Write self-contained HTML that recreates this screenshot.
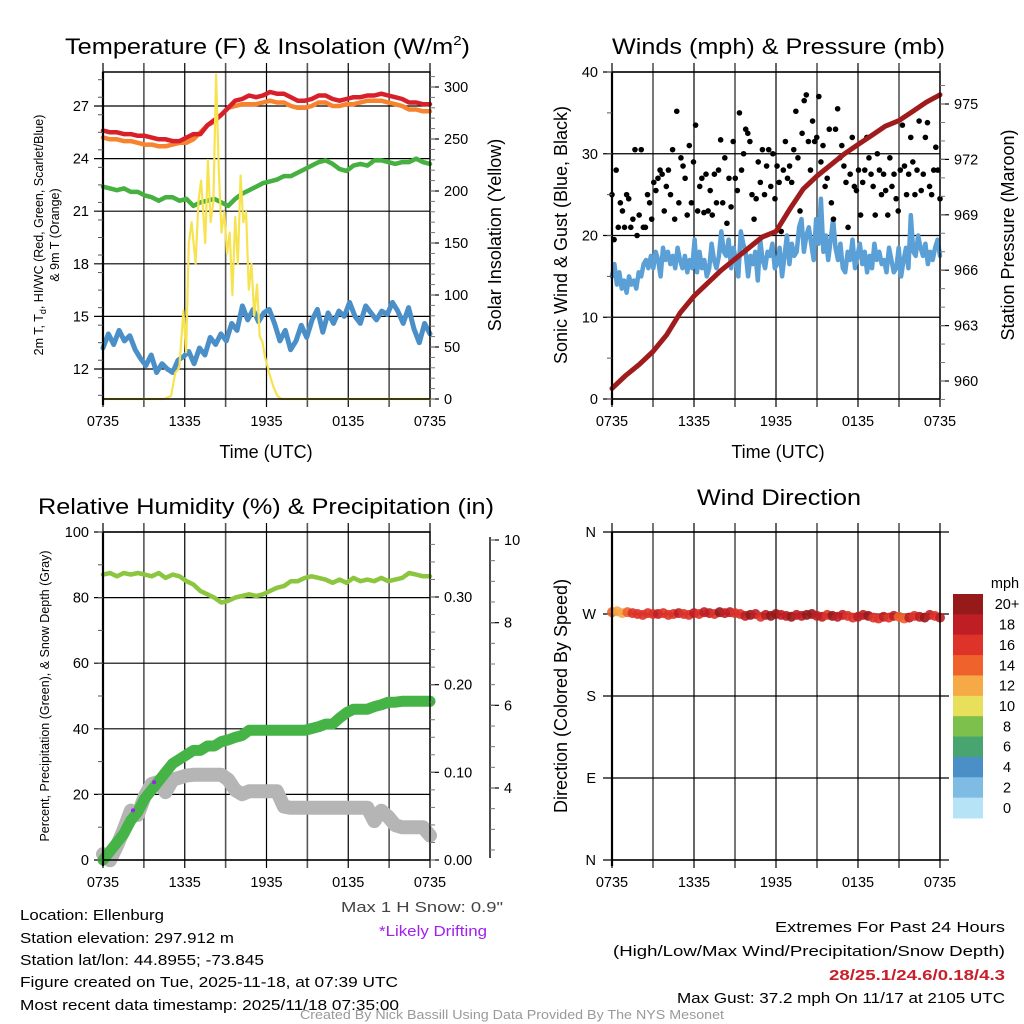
<!DOCTYPE html>
<html><head><meta charset="utf-8"><style>
html,body{margin:0;padding:0;background:#fff}
svg{display:block;font-family:"Liberation Sans",Arial,sans-serif}
</style></head><body>
<svg id="fig" width="1024" height="1024" viewBox="0 0 1024 1024" xmlns="http://www.w3.org/2000/svg">
<rect width="1024" height="1024" fill="#fff"/>
<g id="grids"></g>
<g id="marks"></g>
<g id="axes"></g>
<g font-size="22" fill="#000">
<text x="65" y="54" textLength="405" lengthAdjust="spacingAndGlyphs">Temperature (F) &amp; Insolation (W/m<tspan font-size="13" dy="-9">2</tspan><tspan dy="9">)</tspan></text>
<text x="612" y="54" textLength="333" lengthAdjust="spacingAndGlyphs">Winds (mph) &amp; Pressure (mb)</text>
<text x="38" y="514" textLength="456" lengthAdjust="spacingAndGlyphs">Relative Humidity (%) &amp; Precipitation (in)</text>
<text x="697" y="505" textLength="164" lengthAdjust="spacingAndGlyphs">Wind Direction</text>
</g>
<g font-size="18">
<text x="266" y="458" text-anchor="middle">Time (UTC)</text>
<text x="778" y="458" text-anchor="middle">Time (UTC)</text>
<text transform="translate(501,235) rotate(-90)" text-anchor="middle">Solar Insolation (Yellow)</text>
<text transform="translate(567,235) rotate(-90)" text-anchor="middle">Sonic Wind &amp; Gust (Blue, Black)</text>
<text transform="translate(1014,235) rotate(-90)" text-anchor="middle">Station Pressure (Maroon)</text>
<text transform="translate(567,696) rotate(-90)" text-anchor="middle">Direction (Colored By Speed)</text>
</g>
<g font-size="12.5">
<text transform="translate(43,235) rotate(-90)" text-anchor="middle">2m T, T<tspan font-size="9" dy="3">d</tspan><tspan dy="-3">, HI/WC (Red, Green, Scarlet/Blue)</tspan></text>
<text transform="translate(59,235) rotate(-90)" text-anchor="middle">&amp; 9m T (Orange)</text>
<text transform="translate(49,696) rotate(-90)" text-anchor="middle">Percent, Precipitation (Green), &amp; Snow Depth (Gray)</text>
</g>
<g font-size="15">
<text x="20" y="920" textLength="144" lengthAdjust="spacingAndGlyphs">Location: Ellenburg</text>
<text x="20" y="943" textLength="214" lengthAdjust="spacingAndGlyphs">Station elevation: 297.912 m</text>
<text x="20" y="965" textLength="244" lengthAdjust="spacingAndGlyphs">Station lat/lon: 44.8955; -73.845</text>
<text x="20" y="987" textLength="378" lengthAdjust="spacingAndGlyphs">Figure created on Tue, 2025-11-18, at 07:39 UTC</text>
<text x="20" y="1003" textLength="379" lengthAdjust="spacingAndGlyphs" dy="7">Most recent data timestamp: 2025/11/18 07:35:00</text>
<text x="341" y="912" fill="#444" textLength="162" lengthAdjust="spacingAndGlyphs">Max 1 H Snow: 0.9"</text>
<text x="379" y="936" fill="#a020f0" textLength="108" lengthAdjust="spacingAndGlyphs">*Likely Drifting</text>
<text x="1005" y="932" text-anchor="end" textLength="230" lengthAdjust="spacingAndGlyphs">Extremes For Past 24 Hours</text>
<text x="1005" y="956" text-anchor="end" textLength="392" lengthAdjust="spacingAndGlyphs">(High/Low/Max Wind/Precipitation/Snow Depth)</text>
<text x="1005" y="980" text-anchor="end" fill="#c8202a" font-weight="bold" textLength="176" lengthAdjust="spacingAndGlyphs">28/25.1/24.6/0.18/4.3</text>
<text x="1005" y="1003" text-anchor="end" textLength="328" lengthAdjust="spacingAndGlyphs">Max Gust: 37.2 mph On 11/17 at 2105 UTC</text>
</g>
<text x="512" y="1019" font-size="12.5" fill="#999" text-anchor="middle" textLength="424" lengthAdjust="spacingAndGlyphs">Created By Nick Bassill Using Data Provided By The NYS Mesonet</text>
</svg>
<script>
// ---------------- data ----------------
const xTickLabels = ["0735","1335","1935","0135","0735"];
const tempTicks = [12,15,18,21,24,27];
const solarTicks = [0,50,100,150,200,250,300];
const windTicks = [0,10,20,30,40];
const pressTicks = [960,963,966,969,972,975];
const rhTicks = [0,20,40,60,80,100];
const precipTicks = [0.00,0.10,0.20,0.30];
const snowTicks = [4,6,8,10];
const dirTicks = ["N","E","S","W","N"];
const speedBins = ["0","2","4","6","8","10","12","14","16","18","20+"];

const tempHigh = [25.6,25.5,25.5,25.4,25.4,25.3,25.3,25.2,25.1,25.1,25.0,25.0,25.2,25.4,25.4,25.9,26.2,26.5,26.9,27.3,27.4,27.6,27.5,27.6,27.8,27.7,27.7,27.5,27.3,27.3,27.4,27.6,27.6,27.4,27.3,27.4,27.5,27.5,27.6,27.6,27.7,27.6,27.5,27.4,27.2,27.2,27.1,27.1];
const temp9m = [25.2,25.1,25.1,25.0,25.0,24.9,24.8,24.8,24.7,24.7,24.8,24.9,24.9,25.1,25.5,25.9,26.1,26.5,26.9,27.0,27.1,27.1,27.1,27.2,27.3,27.2,27.2,27.0,26.9,26.9,27.0,27.2,27.2,27.0,27.0,27.1,27.1,27.2,27.3,27.3,27.3,27.2,27.1,27.0,26.8,26.8,26.7,26.7];
const dewPoint = [22.4,22.3,22.2,22.3,22.1,22.1,21.9,21.8,21.6,21.8,21.8,21.6,21.7,21.3,21.5,21.6,21.7,21.5,21.3,21.7,22.0,22.2,22.4,22.6,22.7,22.8,23.0,23.0,23.2,23.4,23.6,23.8,23.9,23.7,23.4,23.3,23.6,23.7,23.6,23.9,23.9,23.8,23.7,23.8,23.8,24.0,23.8,23.7];
const windChill = [13.2,14.0,13.4,14.2,13.6,13.9,13.1,12.6,12.2,12.8,11.8,12.3,12.0,11.8,12.5,12.7,13.0,12.3,13.2,12.8,13.8,13.4,14.0,13.6,14.6,14.2,15.6,14.8,15.4,14.7,15.2,15.4,14.6,13.6,14.2,13.1,13.6,14.5,13.8,14.8,15.4,14.1,15.2,14.6,15.3,15.0,15.8,15.0,14.6,15.6,15.2,14.8,15.3,15.1,15.8,15.3,14.6,15.5,14.3,13.5,14.6,14.0];
const solarHours = [0,4.5,5.0,5.3,5.6,5.9,6.1,6.3,6.5,6.8,7.0,7.2,7.5,7.7,7.9,8.1,8.3,8.5,8.7,8.9,9.1,9.3,9.5,9.7,9.9,10.1,10.3,10.5,10.7,10.9,11.1,11.3,11.5,11.7,11.9,12.2,12.5,12.8,13.1,24];
const solarVals = [0,0,3,25,30,85,45,150,170,130,190,210,150,230,170,190,312,220,160,180,140,160,100,175,130,215,170,180,105,130,80,110,60,55,40,25,12,3,0,0];

const windSpeed = [15,16.5,14,15.5,13.5,14.5,13,15,14,14.5,13.5,15.5,15,16.5,17,16,17.5,16,18,17,15,18.5,17,18,16.5,17.5,16,18.5,17,16,17.5,15.5,17,16,19.5,15.5,18,16,17,15,16,19,17,16,17.5,20.5,18,17.5,19.5,16,18.5,17,15,20.5,19,18,15,17.5,16.5,18,14.5,19.5,17,16,18,17.5,19,16,16.5,18.5,15,17.5,20,16.5,19,17.5,18,21,22,18,20,21,19,17,22,19,24.5,18,20,17,19.5,22,18.5,17,19,16,15.5,18,17,19.5,16,17.5,19,16.5,18,15.5,17.5,16,19,17,18,16.5,17,15.5,18.5,17,15.5,16,18.5,15,17,18.5,16,22.5,18,17.5,20,18.5,17.5,19,16.5,18,17,18.5,19.5,17.5];
const windGust = [25,19.5,28,21,24,23,21,25,24.5,21,22,30.5,20,22.5,30.5,21,21,25,24,22,26.5,25.5,27,28,27.5,23,26,28,25,30.5,22,35.2,24,29.5,28.5,27,22.5,31,24,29,33.5,23,26,27,22.8,27.5,23,25.5,22.5,27.5,24,28,31.7,24,29.5,21.5,27,23.5,31.5,27,25.5,35,28,30,33,32.5,31.5,25,22,24.5,29,26.5,30.5,25,28.5,30.5,26,30,24.5,28.5,26.5,20.5,28,31.5,27,28.5,26.5,30.5,35.2,29.5,23,32.5,36.5,37.2,31.5,28,34,31.5,32,37,29,31,26,27,33,24,22,33,35.5,29.5,31,28.5,26.5,21,27.5,32,26,25.5,28,22.5,26.5,28,32,29.5,27.5,26,22.5,30,28,25,27.5,25.5,22.5,29.5,26,27.5,24.5,23,28,33.5,28.5,25,27.5,32,29,25,28,34,25.5,27.5,32,33.8,26,25,28,30.8,28,24.5];
const pressHours = [0,1,2,3,4,5,6,7,8,9,10,11,12,13,14,15,16,17,18,19,20,21,22,23,24];
const pressure = [959.6,960.3,960.9,961.6,962.5,963.7,964.6,965.3,966.0,966.6,967.2,967.8,968.1,969.3,970.4,971.1,971.7,972.3,972.8,973.3,973.8,974.1,974.6,975.1,975.5];

const windDir = [272,273,271,272,271,270,269,271,270,270,271,269,270,271,270,269,271,270,272,271,270,272,271,272,271,270,268,269,270,267,269,268,270,269,268,267,269,268,269,270,268,267,269,268,267,269,268,266,267,269,268,266,265,267,266,268,267,265,266,268,267,266,269,268,266];
const dirSpeed = [14,13,12,15,16,17,16,17,16,18,17,16,17,18,16,17,18,17,19,18,17,20,19,18,17,16,19,20,18,17,19,20,21,18,19,20,19,18,20,21,19,18,17,20,19,18,16,17,18,19,20,17,16,18,17,19,14,15,18,17,19,20,18,17,18];

const rhVals = [87,87.5,86.5,87.5,87,87.5,87,86.5,87.5,86,87,86.5,85,84,82,81,80,78.5,79,80,80.5,81,80.5,81,82,83,83.5,85,85,86,86.5,86,85.5,84.5,85.5,84.5,86,85,85.5,85,86,85,85.5,86,87.5,87,86.5,86.5];
const precipVals = [0,0.01,0.02,0.03,0.045,0.055,0.07,0.08,0.09,0.10,0.11,0.115,0.12,0.125,0.125,0.13,0.13,0.135,0.137,0.14,0.142,0.148,0.148,0.148,0.148,0.148,0.148,0.148,0.148,0.148,0.15,0.152,0.155,0.155,0.162,0.168,0.172,0.172,0.172,0.175,0.177,0.18,0.18,0.181,0.181,0.181,0.181,0.181];
const snowDepth = [2.4,2.25,2.6,3.0,3.45,3.35,3.8,4.1,4.15,3.9,4.2,4.25,4.3,4.32,4.32,4.32,4.32,4.32,4.2,3.95,3.85,3.92,3.92,3.92,3.92,3.92,3.55,3.52,3.52,3.52,3.52,3.52,3.52,3.52,3.52,3.52,3.52,3.52,3.52,3.2,3.45,3.3,3.1,3.05,3.05,3.05,3.05,2.85];
const driftHours = [2.2,3.75];
const driftDepth = [3.46,4.14];

// ---------------- drawing ----------------
const NS="http://www.w3.org/2000/svg";
const G=document.getElementById('grids'),M=document.getElementById('marks'),A=document.getElementById('axes');
function mk(tag,attrs,parent){const e=document.createElementNS(NS,tag);for(const k in attrs)e.setAttribute(k,attrs[k]);parent.appendChild(e);return e;}
const panels={tl:{x0:103,x1:430,y0:72,y1:399},tr:{x0:612,x1:940,y0:72,y1:399},bl:{x0:103,x1:430,y0:532,y1:860},br:{x0:612,x1:940,y0:532,y1:860}};
function xs(p,h){return p.x0+(h/24)*(p.x1-p.x0);}
function lin(d0,d1,r0,r1){return v=>r0+(v-d0)/(d1-d0)*(r1-r0);}
const yTemp=lin(12,27,369,106), ySolar=lin(0,300,399,87), yWind=lin(0,40,399,72), yPress=lin(960,975,381,104);
const yRH=lin(0,100,860,532), yPrecip=lin(0,0.30,860,597), ySnow=lin(4,10,788,540), yDir=lin(0,360,860,532);
function idxH(arr,i){return i/(arr.length-1)*24;}
function pathFrom(p,vals,yf,hours){let d='';vals.forEach((v,i)=>{const h=hours?hours[i]:idxH(vals,i);d+=(i?'L':'M')+xs(p,h).toFixed(1)+','+yf(v).toFixed(1);});return d;}
function line(name,p,vals,yf,color,w,hours){const e=mk('path',{d:pathFrom(p,vals,yf,hours),fill:'none',stroke:color,'stroke-width':w,'stroke-linejoin':'round','stroke-linecap':'round'},M);

return e;}

function frame(key,name){const p=panels[key];
 for(let i=0;i<=8;i++){const x=xs(p,i*3);const l=mk('line',{x1:x,x2:x,y1:p.y0-9,y2:p.y1+8,stroke:i%2?'#555':'#000','stroke-width':i%2?1.6:1.2},G);
  
  }
 xTickLabels.forEach((t,i)=>{const e=mk('text',{x:xs(p,i*6),y:p.y1+27,'font-size':14.5,'text-anchor':'middle'},A);e.textContent=t;
  
  });
 const b=mk('path',{d:`M${p.x0},${p.y0}H${p.x1}V${p.y1}H${p.x0}Z`,fill:'none',stroke:'#000','stroke-width':1.4},A);
 
 
 mk('line',{x1:p.x0,x2:p.x0,y1:p.y0,y2:p.y1+6,stroke:'#000','stroke-width':2.2},A);
}
function hgrid(p,ticks,yf,name,labelFn,side,minorStep,minorRange){
 ticks.forEach(t=>{const y=yf(t);const l=mk('line',{x1:p.x0-9,x2:p.x1,y1:y,y2:y,stroke:'#000','stroke-width':1.2},G);
  
  
  const e=mk('text',{x:p.x0-14,y:y+5,'font-size':14.5,'text-anchor':'end'},A);e.textContent=labelFn?labelFn(t):t;
  
  });
 if(minorStep){for(let v=minorRange[0];v<=minorRange[1]+1e-9;v+=minorStep){const y=yf(v);if(y<p.y0-1||y>p.y1+1)continue;mk('line',{x1:p.x0-5,x2:p.x0,y1:y,y2:y,stroke:'#555','stroke-width':1},A);}}
}
function rightAxis(p,ticks,yf,name,fmt,ax,minorStep,minorRange){
 const x=ax||p.x1;
 ticks.forEach(t=>{const y=yf(t);mk('line',{x1:x,x2:x+9,y1:y,y2:y,stroke:'#000','stroke-width':1.2},A);
  const e=mk('text',{x:x+14,y:y+5,'font-size':14.5},A);e.textContent=fmt?fmt(t):t;
  
  });
 for(let v=minorRange[0];v<=minorRange[1]+1e-9;v+=minorStep){const y=yf(v);if(y<p.y0-10||y>p.y1+1)continue;mk('line',{x1:x,x2:x+5,y1:y,y2:y,stroke:'#777','stroke-width':1},A);}
}

// Panel TL
const tl=panels.tl;frame('tl','temp');
hgrid(tl,tempTicks,yTemp,'temp-y',null,'l',1,[10.5,29]);
rightAxis(tl,solarTicks,ySolar,'solar-y',null,null,10,[0,310]);
line('wind-chill-line',tl,windChill,yTemp,'#4a8fc8',5);
line('dew-point-line',tl,dewPoint,yTemp,'#46b040',4.5);
line('temp-9m-line',tl,temp9m,yTemp,'#f7832e',4.5);
line('temp-2m-line',tl,tempHigh,yTemp,'#d7202a',4.5);
line('solar-line',tl,solarVals,ySolar,'#f7e350',2.2,solarHours);

// Panel TR
const tr=panels.tr;frame('tr','wind');
hgrid(tr,windTicks,yWind,'wind-y',null,'l',5,[0,40]);
rightAxis(tr,pressTicks,yPress,'pressure-y',null,null,1,[959,976]);
line('wind-speed-line',tr,windSpeed,yWind,'#5a9fd6',4.5);
windGust.forEach((g,i)=>{const c=mk('circle',{cx:xs(tr,idxH(windGust,i)),cy:yWind(g),r:2.8,fill:'#000'},M);
 
 });
line('pressure-line',tr,pressure,yPress,'#a01c1c',5,pressHours);

// Panel BL
const bl=panels.bl;frame('bl','rh');
hgrid(bl,rhTicks,yRH,'rh-y',null,'l',10,[0,100]);
rightAxis(bl,precipTicks,yPrecip,'precip-y',t=>t.toFixed(2),null,0.02,[0,0.375]);
mk('line',{x1:490,x2:490,y1:537,y2:858,stroke:'#000','stroke-width':1.4},A);
rightAxis({y0:540,y1:858},snowTicks,ySnow,'snow-y',null,490,0.5,[2.5,10]);
line('snow-depth-line',bl,snowDepth,ySnow,'#b5b5b5',14);
line('rh-line',bl,rhVals,yRH,'#8cc63f',4.5);
line('precip-line',bl,precipVals,yPrecip,'#46b347',11);
driftHours.forEach((h,i)=>{const c=mk('circle',{cx:xs(bl,h),cy:ySnow(driftDepth[i]),r:2,fill:'#a020f0'},M);
 
 });

// Panel BR
const br=panels.br;frame('br','dir');
[0,90,180,270,360].forEach((v,i)=>{const y=yDir(v);const l=mk('line',{x1:br.x0-9,x2:br.x1+9,y1:y,y2:y,stroke:'#000','stroke-width':1.2},G);
 
 
 const e=mk('text',{x:br.x0-16,y:y+5,'font-size':14.5,'text-anchor':'end'},A);e.textContent=dirTicks[i];
 
 });
const binColors=['#b7e3f7','#7fbce4','#4a8fc6','#48a56f','#7dc04b','#e8e05a','#f5a947','#f0622b','#dd3328','#bf1e24','#961a1a'];
function spColor(s){return binColors[Math.min(10,Math.floor(s/2))];}
windDir.forEach((d,i)=>{const c=mk('circle',{cx:xs(br,idxH(windDir,i)),cy:yDir(d),r:5,fill:spColor(dirSpeed[i]),'fill-opacity':0.9},M);
 
 });
// colorbar
const cbTop=594,cbH=(818-594)/11;
speedBins.forEach((s,i)=>{const k=10-i;const y=cbTop+i*cbH;
 const r=mk('rect',{x:953,y:y,width:30,height:cbH+0.5,fill:binColors[k]},A);
 
 
 const t=mk('text',{x:1007,y:y+cbH/2+5,'font-size':14.5,'text-anchor':'middle'},A);t.textContent=speedBins[k];
 
 });
const mph=mk('text',{x:1005,y:588,'font-size':14.5,'text-anchor':'middle'},A);mph.textContent='mph';


</script>
</body></html>
